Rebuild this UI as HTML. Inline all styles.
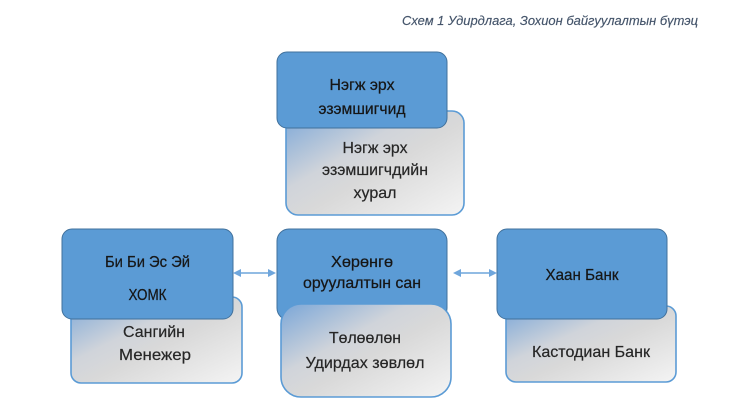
<!DOCTYPE html>
<html>
<head>
<meta charset="utf-8">
<style>
  html, body { margin: 0; padding: 0; background: #ffffff; }
  body { width: 739px; height: 405px; overflow: hidden; }
  svg { display: block; }
  text { font-family: "Liberation Sans", "DejaVu Sans", sans-serif; }
  .b { fill: #161616; stroke: #161616; stroke-width: 0.25; }
  .g { fill: #262626; stroke: #262626; stroke-width: 0.2; }
</style>
</head>
<body>
<svg width="739" height="405" viewBox="0 0 739 405" xmlns="http://www.w3.org/2000/svg">
  <defs>
    <linearGradient id="g" x1="0" y1="0" x2="1" y2="1">
      <stop offset="0" stop-color="#7aa6d8"/>
      <stop offset="0.38" stop-color="#d0d4da"/>
      <stop offset="0.55" stop-color="#d9d9d9"/>
      <stop offset="1" stop-color="#f4f4f4"/>
    </linearGradient>
  </defs>

  <rect width="739" height="405" fill="#ffffff"/>

  <!-- Title -->
  <text x="402" y="25" font-size="12.5" font-style="italic" fill="#44546a" stroke="#44546a" stroke-width="0.15" textLength="296" lengthAdjust="spacingAndGlyphs">Схем 1 Удирдлага, Зохион байгуулалтын бүтэц</text>

  <!-- Top group -->
  <rect x="286" y="111" width="178" height="104" rx="12" fill="url(#g)" stroke="#5b9bd5" stroke-width="1.6"/>
  <rect x="277" y="52" width="170" height="76" rx="10" fill="#5b9bd5" stroke="#41719c" stroke-width="1"/>
  <text class="b" x="362" y="90" font-size="16" text-anchor="middle" textLength="65" lengthAdjust="spacingAndGlyphs">Нэгж эрх</text>
  <text class="b" x="362" y="114" font-size="16" text-anchor="middle" textLength="87" lengthAdjust="spacingAndGlyphs">эзэмшигчид</text>
  <text class="g" x="375" y="153" font-size="16" text-anchor="middle" textLength="65" lengthAdjust="spacingAndGlyphs">Нэгж эрх</text>
  <text class="g" x="375" y="175" font-size="16" text-anchor="middle" textLength="106" lengthAdjust="spacingAndGlyphs">эзэмшигчдийн</text>
  <text class="g" x="375" y="198" font-size="16" text-anchor="middle" textLength="43" lengthAdjust="spacingAndGlyphs">хурал</text>

  <!-- Left group -->
  <rect x="71" y="297" width="171" height="86" rx="10" fill="url(#g)" stroke="#5b9bd5" stroke-width="1.6"/>
  <rect x="62" y="229" width="171" height="90" rx="10" fill="#5b9bd5" stroke="#41719c" stroke-width="1"/>
  <text class="b" x="147.5" y="267" font-size="16" text-anchor="middle" textLength="85" lengthAdjust="spacingAndGlyphs">Би Би Эс Эй</text>
  <text class="b" x="147.5" y="300" font-size="16" text-anchor="middle" textLength="38" lengthAdjust="spacingAndGlyphs">ХОМК</text>
  <text class="g" x="154" y="337" font-size="16" text-anchor="middle" textLength="62" lengthAdjust="spacingAndGlyphs">Сангийн</text>
  <text class="g" x="155" y="360" font-size="16" text-anchor="middle" textLength="72" lengthAdjust="spacingAndGlyphs">Менежер</text>

  <!-- Center group -->
  <rect x="277" y="229" width="170" height="91" rx="12" fill="#5b9bd5" stroke="#41719c" stroke-width="1"/>
  <rect x="281" y="304" width="170" height="93" rx="20" fill="url(#g)" stroke="#5b9bd5" stroke-width="1.6"/>
  <text class="b" x="362" y="267" font-size="16" text-anchor="middle" textLength="62" lengthAdjust="spacingAndGlyphs">Хөрөнгө</text>
  <text class="b" x="362" y="288" font-size="16" text-anchor="middle" textLength="118" lengthAdjust="spacingAndGlyphs">оруулалтын сан</text>
  <text class="g" x="365" y="343" font-size="16" text-anchor="middle" textLength="72" lengthAdjust="spacingAndGlyphs">Төлөөлөн</text>
  <text class="g" x="365" y="368" font-size="16" text-anchor="middle" textLength="119" lengthAdjust="spacingAndGlyphs">Удирдах зөвлөл</text>

  <!-- Right group -->
  <rect x="506" y="306" width="170" height="76" rx="10" fill="url(#g)" stroke="#5b9bd5" stroke-width="1.6"/>
  <rect x="497" y="229" width="170" height="90" rx="10" fill="#5b9bd5" stroke="#41719c" stroke-width="1"/>
  <text class="b" x="582" y="280" font-size="16" text-anchor="middle" textLength="73" lengthAdjust="spacingAndGlyphs">Хаан Банк</text>
  <text class="g" x="591" y="357" font-size="16" text-anchor="middle" textLength="118" lengthAdjust="spacingAndGlyphs">Кастодиан Банк</text>

  <!-- Arrows -->
  <g stroke="#6fa6dc" stroke-width="1.5" fill="#6fa6dc">
    <line x1="240" y1="273" x2="269" y2="273"/>
    <polygon points="233,273 241,269 241,277" stroke="none"/>
    <polygon points="276,273 268,269 268,277" stroke="none"/>
    <line x1="460" y1="273" x2="490" y2="273"/>
    <polygon points="453,273 461,269 461,277" stroke="none"/>
    <polygon points="497,273 489,269 489,277" stroke="none"/>
  </g>
</svg>
</body>
</html>
